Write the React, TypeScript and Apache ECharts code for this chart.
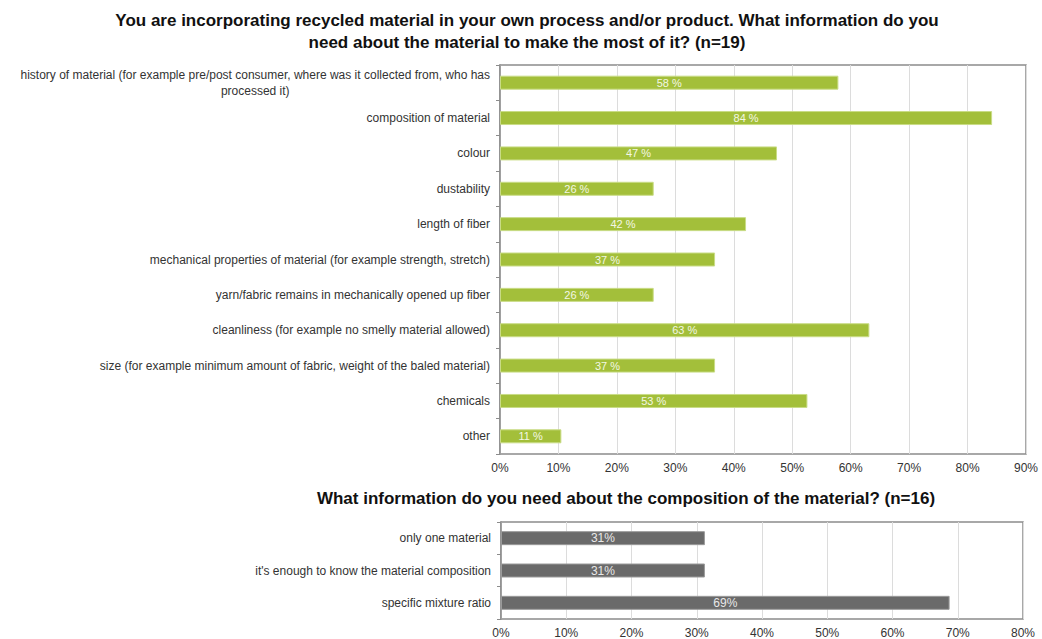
import React, { useEffect, useRef } from 'react';
import * as echarts from 'echarts';

const topTitleLines = [
  'You are incorporating recycled material in your own process and/or product. What information do you',
  'need about the material to make the most of it? (n=19)',
];
const bottomTitle = 'What information do you need about the composition of the material? (n=16)';

const topCategories = [
  'history of material (for example pre/post consumer, where was it collected from, who has\nprocessed it)',
  'composition of material',
  'colour',
  'dustability',
  'length of fiber',
  'mechanical properties of material (for example strength, stretch)',
  'yarn/fabric remains in mechanically opened up fiber',
  'cleanliness (for example no smelly material allowed)',
  'size (for example minimum amount of fabric, weight of the baled material)',
  'chemicals',
  'other',
];
const topValues = [57.9, 84.2, 47.4, 26.3, 42.1, 36.8, 26.3, 63.2, 36.8, 52.6, 10.5];

const bottomCategories = [
  'only one material',
  "it's enough to know the material composition",
  'specific mixture ratio',
];
const bottomValues = [31.25, 31.25, 68.75];

const FONT = '"Liberation Sans", Arial, sans-serif';
const TITLE_FONT = 'bold 17px "Liberation Sans", Arial, sans-serif';

export default function App() {
  const ref = useRef<HTMLDivElement>(null);
  useEffect(() => {
    if (!ref.current) return;
    const chart = echarts.init(ref.current, null, { renderer: 'svg' });
    const catLabel = {
      color: '#333',
      fontSize: 12,
      fontFamily: FONT,
      margin: 10,
      align: 'right',
      lineHeight: 16,
    };
    const xLabel = { color: '#333', fontSize: 12, fontFamily: FONT, margin: 8, formatter: '{value}%' };
    const titleText = (text: string, x: number, y: number) => ({
      type: 'text',
      x,
      y,
      style: { text, align: 'center', verticalAlign: 'middle', font: TITLE_FONT, fill: '#111' },
    });
    chart.setOption({
      animation: false,
      textStyle: { fontFamily: FONT },
      graphic: [
        titleText(topTitleLines[0], 527, 20),
        titleText(topTitleLines[1], 527, 42),
        titleText(bottomTitle, 626, 498),
      ],
      grid: [
        { left: 500, right: 16, top: 65, height: 389, show: true, borderColor: '#8c8c8c', borderWidth: 1.5, backgroundColor: '#fff' },
        { left: 501, right: 19, top: 522, height: 100, show: true, borderColor: '#8c8c8c', borderWidth: 1.5, backgroundColor: '#fff' },
      ],
      xAxis: [
        {
          type: 'value', gridIndex: 0, min: 0, max: 90, interval: 10,
          axisLine: { show: false }, axisTick: { show: false },
          splitLine: { show: true, lineStyle: { color: '#dcdcdc', width: 1 } },
          axisLabel: xLabel,
        },
        {
          type: 'value', gridIndex: 1, min: 0, max: 80, interval: 10,
          axisLine: { show: false }, axisTick: { show: false },
          splitLine: { show: true, lineStyle: { color: '#dcdcdc', width: 1 } },
          axisLabel: xLabel,
        },
      ],
      yAxis: [
        {
          type: 'category', gridIndex: 0, data: topCategories, inverse: true,
          axisLine: { show: true, lineStyle: { color: '#8c8c8c', width: 1.5 } },
          axisTick: { show: true, length: 4, lineStyle: { color: '#8c8c8c' } },
          axisLabel: {
            ...catLabel,
            formatter: (v: string) =>
              v.indexOf('\n') >= 0 ? v.split('\n').map((l) => `{c|${l}}`).join('\n') : v,
            rich: { c: { align: 'center', fontSize: 12, color: '#333', fontFamily: FONT, lineHeight: 16 } },
          },
        },
        {
          type: 'category', gridIndex: 1, data: bottomCategories, inverse: true,
          axisLine: { show: true, lineStyle: { color: '#8c8c8c', width: 1.5 } },
          axisTick: { show: true, length: 4, lineStyle: { color: '#8c8c8c' } },
          axisLabel: catLabel,
        },
      ],
      series: [
        {
          type: 'bar', xAxisIndex: 0, yAxisIndex: 0, data: topValues, barWidth: 14,
          itemStyle: { color: '#a3bf3a', borderColor: '#c9dc86', borderWidth: 1 },
          label: {
            show: true, position: 'inside', color: '#f3f7e4', fontSize: 11, fontFamily: FONT,
            formatter: (p: any) => `${Math.round(p.value)} %`,
          },
        },
        {
          type: 'bar', xAxisIndex: 1, yAxisIndex: 1, data: bottomValues, barWidth: 14,
          itemStyle: { color: '#6a6a6a', borderColor: '#9a9a9a', borderWidth: 1 },
          label: {
            show: true, position: 'inside', color: '#e8e8e8', fontSize: 12, fontFamily: FONT,
            formatter: (p: any) => `${Math.round(p.value)}%`,
          },
        },
      ],
    });
    return () => chart.dispose();
  }, []);
  return (
    <div
      ref={ref}
      style={{ position: 'fixed', left: 0, top: 0, width: 1042, height: 639, background: '#fff' }}
    />
  );
}
